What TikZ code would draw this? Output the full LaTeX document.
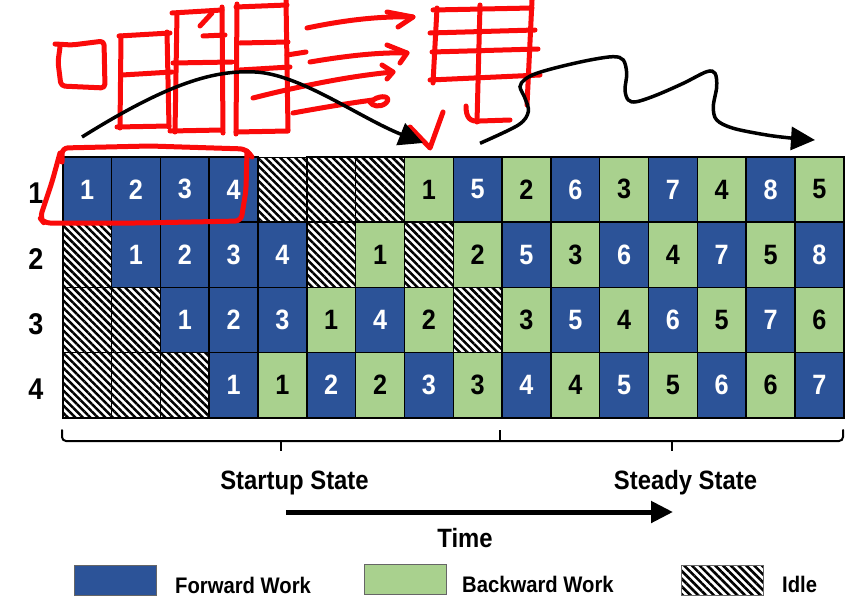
\documentclass[tikz,border=0pt]{standalone}
\usepackage{fontspec}
\setmainfont{Liberation Sans}[FakeStretch=0.9]
\usetikzlibrary{patterns.meta,arrows.meta}
\definecolor{fwdblue}{RGB}{44,83,152}
\definecolor{bwdgreen}{RGB}{169,209,142}
\definecolor{inkred}{RGB}{250,10,10}
\begin{document}
\begin{tikzpicture}[x=1pt,y=-1pt,
  cell/.style={draw=black, line width=1.5pt, minimum width=48.8125pt, minimum height=65.25pt,
    inner sep=0pt, anchor=north west, font=\bfseries\fontsize{28}{28}\selectfont},
  cellF/.style={cell, fill=fwdblue, text=white},
  cellB/.style={cell, fill=bwdgreen, text=black},
  cellI/.style={cell, preaction={fill=white}, pattern={Lines[angle=-45,distance=5.3pt,line width=2.5pt]}},
  rowlab/.style={font=\bfseries\fontsize{30}{30}\selectfont, inner sep=0pt},
  biglab/.style={font=\bfseries\fontsize{26.5}{26.5}\selectfont, inner sep=0pt, anchor=base},
  leglab/.style={font=\bfseries\fontsize{22.5}{22.5}\selectfont, inner sep=0pt, anchor=base west},
  legbox/.style={draw=black!60, line width=1pt, minimum width=82pt, minimum height=30pt, inner sep=0pt},
  bracket/.style={line width=2pt, line cap=round, rounded corners=4pt},
  ink/.style={draw=inkred, line width=5pt, line cap=round, line join=round},
  blackarrow/.style={line width=3.5pt, -{Triangle[length=24pt,width=23pt]}}
]
\useasboundingbox (0,0) rectangle (858,597);

% grid
\foreach \row [count=\r] in {
  {F/1,F/2,F/3,F/4,I/{},I/{},I/{},B/1,F/5,B/2,F/6,B/3,F/7,B/4,F/8,B/5},
  {I/{},F/1,F/2,F/3,F/4,I/{},B/1,I/{},B/2,F/5,B/3,F/6,B/4,F/7,B/5,F/8},
  {I/{},I/{},F/1,F/2,F/3,B/1,F/4,B/2,I/{},B/3,F/5,B/4,F/6,B/5,F/7,B/6},
  {I/{},I/{},I/{},F/1,B/1,F/2,B/2,F/3,B/3,F/4,B/4,F/5,B/5,F/6,B/6,F/7}} {
  \foreach \t/\n [count=\c] in \row {
    \node[cell\t] (c\r-\c) at ({62+(\c-1)*48.8125},{156+(\r-1)*65.25}) {\raisebox{-2pt}{\n}};
  }
  \node[rowlab] (lab\r) at (36,{156+(\r-0.5)*65.25+5}) {\r};
}

% bracket
\coordinate (bL) at (62,430);
\coordinate (bR) at (843,430);
\coordinate (bM) at (500,430);
\coordinate (bM1) at (500,441);
\coordinate (bS) at (281,441);
\coordinate (bS1) at (281,451);
\coordinate (bT) at (672,441);
\coordinate (bT1) at (672,451);
\draw[bracket] (bL) -- (62,441) -- (843,441) -- (bR);
\draw[line width=2pt] (bM1) -- (bM);
\draw[line width=2pt] (bS) -- (bS1);
\draw[line width=2pt] (bT) -- (bT1);

\node[biglab] (startup) at (294.5,489) {Startup State};
\node[biglab] (steady) at (685.5,489) {Steady State};
\coordinate (tA) at (286,512);
\coordinate (tB) at (673,512);
\draw[line width=5pt, -{Triangle[length=22pt,width=21pt]}] (tA) -- (tB);
\node[biglab] (time) at (465,547) {Time};

% legend
\node[legbox, fill=fwdblue] (legF) at (115,580) {};
\node[leglab] (legFt) at (175,593) {Forward Work};
\node[legbox, fill=bwdgreen] (legB) at (405.5,579) {};
\node[leglab] (legBt) at (462,592) {Backward Work};
\node[legbox, pattern={Lines[angle=-45,distance=5.5pt,line width=2.6pt]}] (legI) at (722,580.5) {};
\node[leglab] (legIt) at (782,592) {Idle};

% red ink annotations
\draw[ink, rounded corners=6pt] (62,162) -- (62,148) -- (150,146) -- (246,149) -- (252,157);
\draw[ink, rounded corners=6pt] (247,151) -- (246,190) -- (241,221) -- (140,223) -- (44,223) -- (40,218) -- (52,182) -- (60,153);
% small square
\draw[ink, rounded corners=4pt] (55,44) -- (72,45) -- (104,41) -- (105,88) -- (61,86) -- (58,62) -- (60,47);
% two-cell column
\draw[ink] (121,36) -- (120,128);
\draw[ink] (167,32) -- (169,127);
\draw[ink] (119,36) -- (170,33);
\draw[ink] (122,75) -- (172,72);
\draw[ink] (117,127) -- (169,126);
% three-cell column
\draw[ink] (177,13) -- (175,132);
\draw[ink] (222,7) -- (223,133);
\draw[ink] (172,13) -- (222,10);
\draw[ink] (203,36) -- (225,35);
\draw[ink] (200,26) -- (212,13);
\draw[ink] (173,63) -- (232,62);
\draw[ink] (170,131) -- (222,130);
% four-cell column
\draw[ink] (237,4) -- (236,134);
\draw[ink] (286,0) -- (288,130);
\draw[ink] (236,7) -- (287,5);
\draw[ink] (240,43) -- (288,42);
\draw[ink] (287,55) -- (306,52);
\draw[ink] (240,70) -- (290,67);
\draw[ink] (236,132) -- (288,131);
% red arrows
\draw[ink] (307,28) .. controls (345,20) and (380,16) .. (413,17);
\draw[ink] (387,12) -- (413,17) -- (398,27);
\draw[ink] (310,62) .. controls (345,56) and (380,52) .. (407,53);
\draw[ink] (387,45) -- (407,53) -- (400,63);
\draw[ink] (253,98) .. controls (300,86) and (350,76) .. (393,72);
\draw[ink] (382,65) -- (393,72) -- (387,79);
\draw[ink] (293,113) .. controls (320,108) and (350,103) .. (373,100) .. controls (382,94) and (392,97) .. (386,103) .. controls (380,108) and (372,106) .. (370,102);
% check mark
\draw[ink] (410,127) -- (430,148) -- (443,112);
% right double column
\draw[ink] (437,8) -- (433,83);
\draw[ink] (480,5) -- (477,122);
\draw[ink] (532,0) -- (527,105);
\draw[ink] (433,10) -- (532,8);
\draw[ink] (430,33) -- (535,30);
\draw[ink] (432,52) -- (538,49);
\draw[ink] (430,80) -- (540,75);
\draw[ink] (466,106) .. controls (466,118) and (470,122) .. (480,121) -- (510,120);

% black arrows
\coordinate (aS) at (82,137);
\coordinate (aE) at (423,143);
\draw[blackarrow] (aS) .. controls (170,82) and (215,70) .. (255,72) .. controls (300,74) and (360,118) .. (aE);
\coordinate (wS) at (480,143.3);
\coordinate (wE) at (815,140);
\draw[blackarrow] plot[smooth, tension=0.55] coordinates {(wS) (518.3,125) (528.3,111.7) (525,98.3) (520,86.7) (525,79.3) (536.7,73.3) (560,66.7) (590,60) (613.3,56.7) (623.3,60) (626.7,73.3) (625,90) (628.3,100) (636.7,101.7) (656.7,95) (683.3,83.3) (706.7,71.7) (715,73.3) (716.7,86.7) (713.3,106.7) (716.7,120) (733.3,128.3) (766.7,135) (793.3,138.3) (wE)};
\end{tikzpicture}
\end{document}
